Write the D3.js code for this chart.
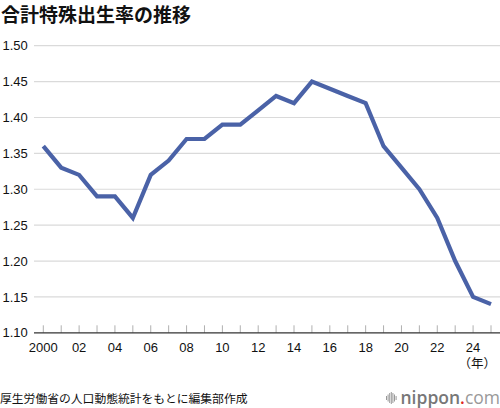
<!DOCTYPE html>
<html><head><meta charset="utf-8">
<script src="https://cdn.jsdelivr.net/npm/d3@7"></script>
<style>
html,body{margin:0;padding:0;background:#fff;}
svg{display:block;}
</style></head>
<body>
<svg id="c" width="500" height="408"></svg>
<script>
const title = "合計特殊出生率の推移";
const years = [2000,2001,2002,2003,2004,2005,2006,2007,2008,2009,2010,2011,2012,2013,2014,2015,2016,2017,2018,2019,2020,2021,2022,2023,2024,2025];
const tfr = [1.36,1.33,1.32,1.29,1.29,1.26,1.32,1.34,1.37,1.37,1.39,1.39,1.41,1.43,1.42,1.45,1.44,1.43,1.42,1.36,1.33,1.30,1.26,1.20,1.15,1.14];
const yTicks = [1.10,1.15,1.20,1.25,1.30,1.35,1.40,1.45,1.50];
const xLabelYears = [2000,2002,2004,2006,2008,2010,2012,2014,2016,2018,2020,2022,2024];
const xUnit = "（年）";
const source = "厚生労働省の人口動態統計をもとに編集部作成";

const svg = d3.select("#c");
const font = "'Liberation Sans', Arial, Helvetica, sans-serif";
const jfont = "'Noto Sans CJK JP', 'Noto Sans', sans-serif";

const x = d3.scaleLinear().domain([2000,2025]).range([43.3,491]);
const y = d3.scaleLinear().domain([1.10,1.50]).range([332.8,45.7]);

// title
svg.append("text").attr("x",1).attr("y",22).attr("font-family",jfont).attr("font-weight",700)
  .attr("font-size",19).attr("fill","#111").text(title);

// gridlines
svg.append("g").selectAll("line").data(yTicks.filter(d=>d>1.1)).join("line")
  .attr("x1",34).attr("x2",500).attr("y1",d=>y(d)).attr("y2",d=>y(d))
  .attr("stroke","#dadada").attr("stroke-width",1.2);

// y labels
svg.append("g").selectAll("text").data(yTicks).join("text")
  .attr("x",2.5).attr("y",d=>y(d)).attr("dy","0.36em")
  .attr("font-family",font).attr("font-size",13).attr("fill","#111")
  .text(d=>d3.format(".2f")(d));

// minor ticks on x axis
svg.append("g").selectAll("line").data(years).join("line")
  .attr("x1",d=>x(d)).attr("x2",d=>x(d)).attr("y1",y(1.10)-7.5).attr("y2",y(1.10))
  .attr("stroke","#b0b0b0").attr("stroke-width",1);

// axis baseline
svg.append("line").attr("x1",34).attr("x2",500).attr("y1",y(1.10)).attr("y2",y(1.10))
  .attr("stroke","#333").attr("stroke-width",1.3);

// x labels
svg.append("g").selectAll("text").data(xLabelYears).join("text")
  .attr("x",d=>x(d)).attr("y",351.5).attr("text-anchor","middle")
  .attr("font-family",font).attr("font-size",13).attr("fill","#111")
  .text(d=>d===2000?"2000":d3.format("02")(d%100));

svg.append("text").attr("x",496).attr("y",368).attr("text-anchor","end")
  .attr("font-family",jfont).attr("font-size",12.5).attr("fill","#111").text(xUnit);

// line
const line = d3.line().x((d,i)=>x(years[i])).y(d=>y(d));
svg.append("path").datum(tfr).attr("d",line).attr("fill","none")
  .attr("stroke","#4a62a7").attr("stroke-width",4.2).attr("stroke-linejoin","miter");

// source
svg.append("text").attr("x",0).attr("y",402.5).attr("font-family",jfont)
  .attr("font-size",11.8).attr("fill","#111").text(source);

// logo
const logo = svg.append("g");
const bars = [4,7,10,12,10,7,4];
logo.selectAll("rect").data(bars).join("rect")
  .attr("x",(d,i)=>386+i*1.6).attr("y",d=>398-d/2).attr("width",1).attr("height",d=>d)
  .attr("fill","#999");
const lt = logo.append("text").attr("x",400.5).attr("y",404).attr("font-family","'Open Sans', 'Liberation Sans', sans-serif")
  .attr("font-size",17.5);
lt.append("tspan").attr("fill","#777").attr("font-weight",600).text("nippon");
lt.append("tspan").attr("fill","#e0261f").attr("font-weight",600).text(".");
lt.append("tspan").attr("fill","#999").attr("font-weight",400).text("com");
</script>
</body></html>
